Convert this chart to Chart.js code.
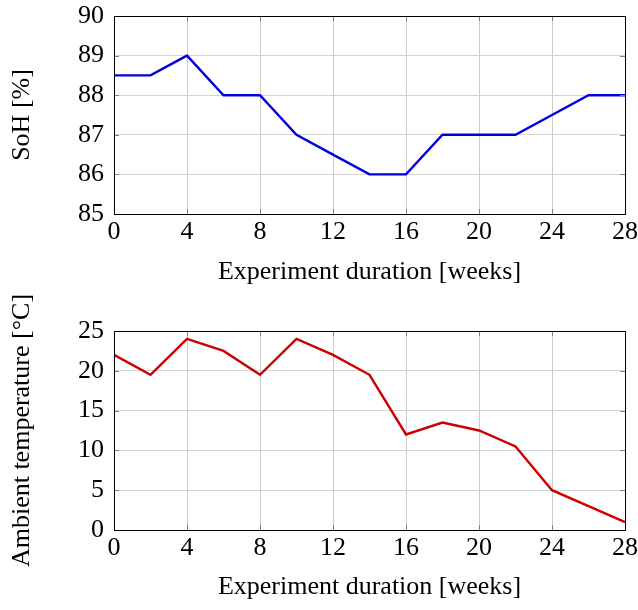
<!DOCTYPE html>
<html><head><meta charset="utf-8">
<script src="https://cdn.jsdelivr.net/npm/chart.js@4.4.0/dist/chart.umd.min.js"></script>
<style>
html,body{margin:0;padding:0;background:#fff;}
#wrap{position:relative;width:638px;height:610px;background:#fff;}
#c1{position:absolute;left:0;top:0;}
#c2{position:absolute;left:0;top:270px;}
</style></head><body>
<div id="wrap"><canvas id="c1" width="638" height="300"></canvas><canvas id="c2" width="638" height="340"></canvas></div>
<script>
const weeks = [0, 2, 4, 6, 8, 10, 12, 14, 16, 18, 20, 22, 24, 26, 28];
const soh = [88.5, 88.5, 89, 88, 88, 87, 86.5, 86, 86, 87, 87, 87, 87.5, 88, 88];
const temperature = [22, 19.5, 24, 22.5, 19.5, 24, 22, 19.5, 12, 13.5, 12.5, 10.5, 5, 3, 1];
const xTicks = [0, 4, 8, 12, 16, 20, 24, 28];
const sohTicks = [85, 86, 87, 88, 89, 90];
const tempTicks = [0, 5, 10, 15, 20, 25];
const xTitle = 'Experiment duration [weeks]';
const sohTitle = 'SoH [%]';
const tempTitle = 'Ambient temperature [°C]';

const FONT = 'Liberation Serif';
const FS = 26;

const boxPlugin = {
  id: 'box',
  afterDraw(chart) {
    const ctx = chart.ctx, a = chart.chartArea;
    const xs = chart.scales.x, ys = chart.scales.y;
    ctx.save();
    ctx.strokeStyle = '#808080';
    ctx.lineWidth = 1;
    ctx.beginPath();
    xs.ticks.forEach(t => {
      const px = Math.round(xs.getPixelForValue(t.value)) + 0.5;
      ctx.moveTo(px, a.bottom); ctx.lineTo(px, a.bottom - 5);
      ctx.moveTo(px, a.top); ctx.lineTo(px, a.top + 5);
    });
    ys.ticks.forEach(t => {
      const py = Math.round(ys.getPixelForValue(t.value)) + 0.5;
      ctx.moveTo(a.left, py); ctx.lineTo(a.left + 5, py);
      ctx.moveTo(a.right, py); ctx.lineTo(a.right - 5, py);
    });
    ctx.stroke();
    ctx.strokeStyle = '#000';
    ctx.lineWidth = 1;
    ctx.strokeRect(Math.round(a.left) + 0.5, Math.round(a.top) + 0.5, Math.round(a.right - a.left), Math.round(a.bottom - a.top));
    ctx.restore();
  }
};

function makeChart(id, values, color, yTicks, yTitle, pad, xAxisH, xTitlePad) {
  return new Chart(document.getElementById(id), {
    type: 'line',
    data: {
      datasets: [{
        data: weeks.map((w, i) => ({x: w, y: values[i]})),
        borderColor: color,
        borderWidth: 2.4,
        pointRadius: 0,
        tension: 0,
        fill: false
      }]
    },
    options: {
      responsive: false,
      animation: false,
      devicePixelRatio: 1,
      layout: {padding: pad},
      plugins: {legend: {display: false}, tooltip: {enabled: false}},
      scales: {
        x: {
          type: 'linear',
          min: xTicks[0], max: xTicks[xTicks.length - 1],
          afterBuildTicks: s => { s.ticks = xTicks.map(v => ({value: v})); },
          afterFit: s => { s.height = xAxisH; s.paddingLeft = 0; s.paddingRight = 0; },
          grid: {color: '#cccccc', lineWidth: 1, drawTicks: false},
          border: {display: false},
          ticks: {color: '#000', font: {family: FONT, size: FS}, padding: 3, maxRotation: 0, autoSkip: false},
          title: {display: true, text: xTitle, color: '#000', font: {family: FONT, size: FS, lineHeight: 1}, padding: {top: 0, bottom: xTitlePad}}
        },
        y: {
          type: 'linear',
          min: yTicks[0], max: yTicks[yTicks.length - 1],
          afterBuildTicks: s => { s.ticks = yTicks.map(v => ({value: v})); },
          afterFit: s => { s.width = 114; s.paddingTop = 0; s.paddingBottom = 0; },
          grid: {color: '#d4d4d4', lineWidth: 1, drawTicks: false},
          border: {display: false},
          ticks: {color: '#000', font: {family: FONT, size: FS}, padding: 10, autoSkip: false},
          title: {display: true, text: yTitle, color: '#000', font: {family: FONT, size: FS, lineHeight: 1}, padding: {top: 9, bottom: 0}}
        }
      }
    },
    plugins: [boxPlugin]
  });
}

makeChart('c1', soh, 'rgb(0,0,222)', sohTicks, sohTitle, {left: 0, right: 13, top: 16, bottom: 0}, 86, 15);
makeChart('c2', temperature, 'rgb(205,0,0)', tempTicks, tempTitle, {left: 0, right: 13, top: 61, bottom: 0}, 80, 10);
</script>
</body></html>
